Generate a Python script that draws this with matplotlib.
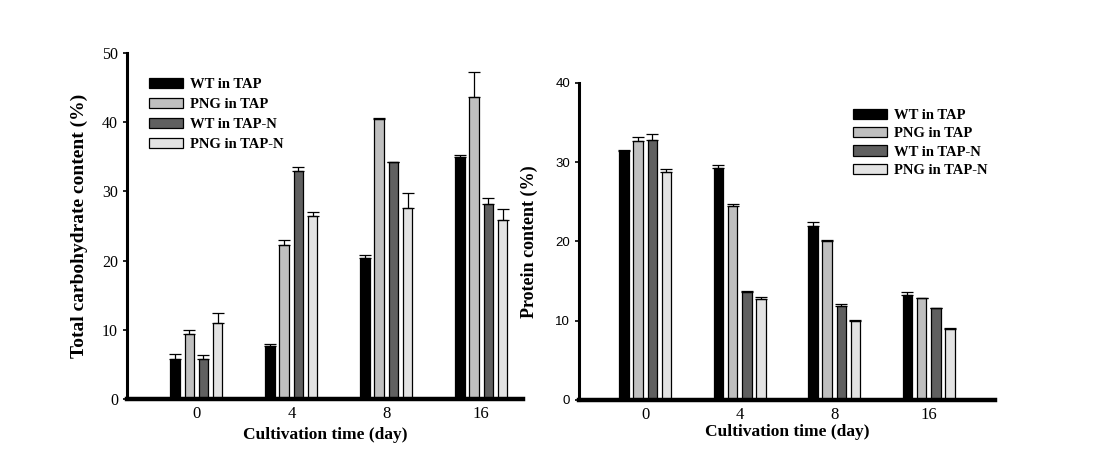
import matplotlib
matplotlib.use("Agg")
import matplotlib.pyplot as plt
import numpy as np

days = ["0", "4", "8", "16"]
series = ["WT in TAP", "PNG in TAP", "WT in TAP-N", "PNG in TAP-N"]
colors = ["#000000", "#bfbfbf", "#606060", "#e3e3e3"]

carb_wt_tap = [5.8, 7.6, 20.4, 35.0]
carb_png_tap = [9.4, 22.2, 40.5, 43.6]
carb_wt_tapn = [5.8, 33.0, 34.2, 28.2]
carb_png_tapn = [11.0, 26.5, 27.6, 25.8]
carb_wt_tap_err = [0.7, 0.35, 0.35, 0.3]
carb_png_tap_err = [0.6, 0.8, 0.1, 3.7]
carb_wt_tapn_err = [0.6, 0.5, 0.1, 0.8]
carb_png_tapn_err = [1.45, 0.5, 2.1, 1.6]

prot_wt_tap = [31.4, 29.2, 21.9, 13.2]
prot_png_tap = [32.7, 24.5, 20.1, 12.8]
prot_wt_tapn = [32.8, 13.6, 11.9, 11.6]
prot_png_tapn = [28.7, 12.7, 10.0, 9.0]
prot_wt_tap_err = [0.1, 0.45, 0.5, 0.38]
prot_png_tap_err = [0.42, 0.2, 0.05, 0.05]
prot_wt_tapn_err = [0.75, 0.2, 0.2, 0.05]
prot_png_tapn_err = [0.4, 0.3, 0.1, 0.05]

carb_vals = [carb_wt_tap, carb_png_tap, carb_wt_tapn, carb_png_tapn]
carb_errs = [carb_wt_tap_err, carb_png_tap_err, carb_wt_tapn_err, carb_png_tapn_err]
prot_vals = [prot_wt_tap, prot_png_tap, prot_wt_tapn, prot_png_tapn]
prot_errs = [prot_wt_tap_err, prot_png_tap_err, prot_wt_tapn_err, prot_png_tapn_err]

plt.rcParams['font.family'] = ['Liberation Serif', 'DejaVu Serif']

fig = plt.figure(figsize=(11, 4.51), dpi=100)
ax1 = fig.add_axes([0.1155, 0.1153, 0.36, 0.7672])
ax2 = fig.add_axes([0.5264, 0.1131, 0.378, 0.7035])

x = np.arange(len(days))
width = 0.1
step = 0.15
offsets = [-1.5 * step, -0.5 * step, 0.5 * step, 1.5 * step]


def draw(ax, vals, errs, ymax, xlim):
    for i in range(4):
        ax.bar(x + offsets[i], vals[i], width, color=colors[i], edgecolor="black",
               linewidth=0.9, label=series[i], zorder=2)
        ax.errorbar(x + offsets[i], vals[i],
                    yerr=[np.zeros(len(errs[i])), errs[i]],
                    fmt="none", ecolor="black", elinewidth=0.9, capsize=4,
                    capthick=0.9, zorder=3)
    ax.set_xlim(*xlim)
    ax.set_ylim(0, ymax)
    ax.set_xticks(x)
    ax.set_xticklabels(days, fontsize=12)
    ax.tick_params(axis="x", length=0, pad=5)
    ax.spines["top"].set_visible(False)
    ax.spines["right"].set_visible(False)
    ax.spines["left"].set_linewidth(2.2)
    ax.spines["bottom"].set_linewidth(3.2)
    ax.tick_params(axis="y", direction="out", length=3, width=1.2)


legend_prop = {"family": "Liberation Serif", "weight": "bold", "size": 10.5}

draw(ax1, carb_vals, carb_errs, 50, (-0.73, 3.44))
ax1.set_yticks(np.arange(0, 51, 10))
ax1.set_yticklabels([str(v) for v in range(0, 51, 10)], fontsize=11.5)
ax1.set_xlabel("Cultivation time (day)", fontsize=12.5, fontweight="bold", labelpad=4)
ax1.set_ylabel("Total carbohydrate content (%)", fontsize=14,
               fontweight="bold", labelpad=10)
ax1.legend(loc="upper left", bbox_to_anchor=(0.0556, 0.927), frameon=False,
           handlelength=2.3, handleheight=0.7, handletextpad=0.5,
           labelspacing=0.46, borderpad=0, borderaxespad=0, prop=legend_prop)

draw(ax2, prot_vals, prot_errs, 40, (-0.70, 3.70))
ax2.set_yticks(np.arange(0, 41, 10))
ax2.set_yticklabels([str(v) for v in range(0, 41, 10)], fontsize=9.5,
                    family=["Liberation Sans", "DejaVu Sans"])
ax2.set_xlabel("Cultivation time (day)", fontsize=12.5, fontweight="bold", labelpad=1)
ax2.set_ylabel("Protein content (%)", fontsize=13, fontweight="bold", labelpad=12)
ax2.legend(loc="upper left", bbox_to_anchor=(0.659, 0.917), frameon=False,
           handlelength=2.3, handleheight=0.7, handletextpad=0.5,
           labelspacing=0.34, borderpad=0, borderaxespad=0, prop=legend_prop)

fig.savefig("out.png", dpi=100)
